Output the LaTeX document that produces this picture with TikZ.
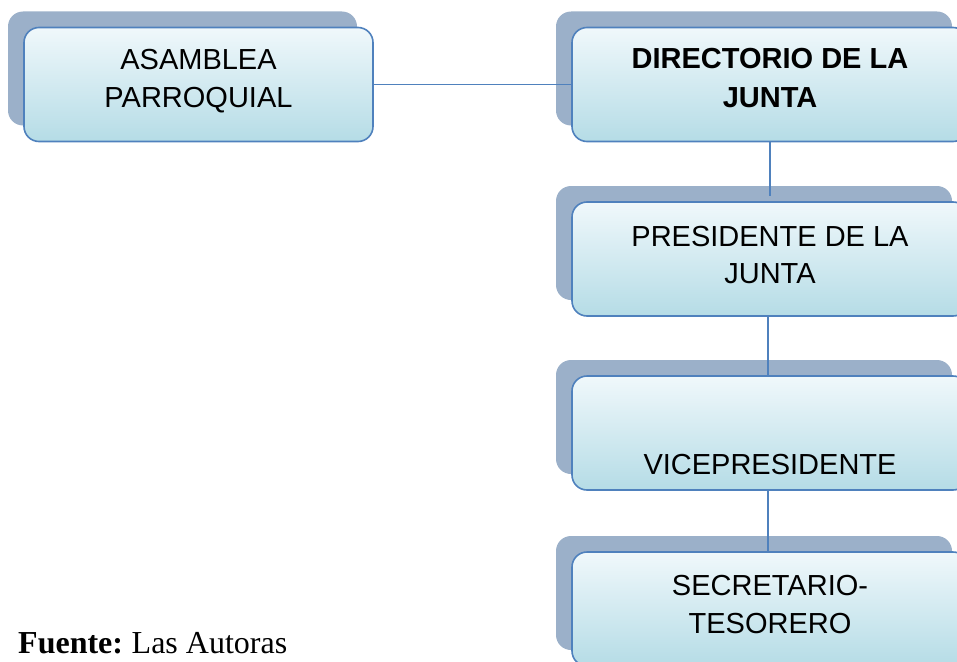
\documentclass[tikz,border=0pt]{standalone}
\usepackage{fontspec}
\newfontfamily\sansA{Liberation Sans}
\newfontfamily\serifT{Liberation Serif}
\usetikzlibrary{shadows}
\definecolor{shadowc}{HTML}{9BB0C9}
\definecolor{edgec}{HTML}{4F81BD}
\definecolor{topc}{HTML}{F0F8FB}
\definecolor{botc}{HTML}{B5DCE6}
\begin{document}
\begin{tikzpicture}[x=1pt,y=-1pt,
  box/.style={draw=edgec, line width=1.6pt, rounded corners=15pt,
    top color=topc, bottom color=botc, minimum height=114pt, inner sep=0pt,
    drop shadow={shadow xshift=-16pt, shadow yshift=16pt, fill=shadowc, opacity=1}},
  lbl/.style={anchor=base, inner sep=0pt, font=\sansA\fontsize{29}{35}\selectfont},
  blbl/.style={lbl, font=\sansA\bfseries\fontsize{29}{35}\selectfont},
  conn/.style={draw=edgec, line width=1.6pt}]
\useasboundingbox (0,0) rectangle (957,661);
\clip (0,0) rectangle (957,661);
\node[box, minimum width=349pt] (A) at (198.5,84.5) {};
\node[box, minimum width=396pt] (D) at (770,84.5) {};
\node[box, minimum width=396pt] (P) at (770,259) {};
\node[box, minimum width=396pt] (V) at (770,433) {};
\node[box, minimum width=396pt] (S) at (770,609) {};
\node[lbl] (a1) at (198.5,69) {ASAMBLEA};
\node[lbl] (a2) at (198.5,107) {PARROQUIAL};
\node[blbl] (d1) at (770,68) {DIRECTORIO DE LA};
\node[blbl] (d2) at (770,107) {JUNTA};
\node[lbl] (p1) at (770,246) {PRESIDENTE DE LA};
\node[lbl] (p2) at (770,283) {JUNTA};
\node[lbl] (v1) at (770,474) {VICEPRESIDENTE};
\node[lbl] (s1) at (770,595) {SECRETARIO-};
\node[lbl] (s2) at (770,633) {TESORERO};
\node[anchor=base west, inner sep=0pt, font=\serifT\fontsize{32}{38}\selectfont] (f) at (18,653) {\textbf{Fuente:}\hspace{-2pt} Las Autoras};
\draw[conn] (A.east) -- (D.west);
\draw[conn, shorten >=5pt] (D.south) -- (P.north);
\draw[conn] ([xshift=-2pt]P.south) -- ([xshift=-2pt]V.north);
\draw[conn] ([xshift=-2pt]V.south) -- ([xshift=-2pt]S.north);
\end{tikzpicture}
\end{document}
